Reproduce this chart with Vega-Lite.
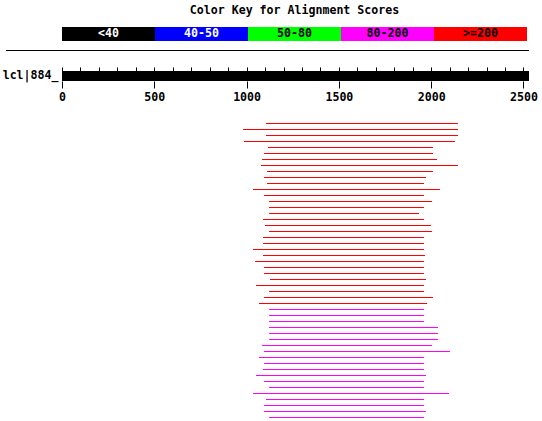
{
  "$schema": "https://vega.github.io/schema/vega-lite/v6.json",
  "autosize": {"type": "pad"},
  "padding": {"left": 2, "top": 5, "right": 0, "bottom": 0},
  "background": "white",
  "bounds": "flush",
  "spacing": 30,
  "resolve": {"scale": {"x": "independent", "y": "independent"}},
  "config": {"view": {"stroke": null}},
  "vconcat": [
    {
      "width": 465,
      "height": 14,
      "title": {"text": "Color Key for Alignment Scores", "font": "DejaVu Sans Mono", "fontSize": 11.6, "fontWeight": "bold", "color": "black", "anchor": "middle", "baseline": "alphabetic", "offset": 1},
      "data": {"values": [{"label": "<40"}, {"label": "40-50"}, {"label": "50-80"}, {"label": "80-200"}, {"label": ">=200"}]},
      "encoding": {"x": {"field": "label", "type": "nominal", "sort": null, "scale": {"paddingInner": 0, "paddingOuter": 0}, "axis": null}},
      "layer": [
        {"mark": {"type": "rect"}, "encoding": {"color": {"field": "label", "type": "nominal", "scale": {"domain": ["<40", "40-50", "50-80", "80-200", ">=200"], "range": ["#000000", "#0000ff", "#00ff00", "#ff00ff", "#ff0000"]}, "legend": null}}},
        {"mark": {"type": "text", "font": "DejaVu Sans Mono", "fontSize": 11.6, "fontWeight": "bold", "baseline": "middle"}, "encoding": {"text": {"field": "label"}, "color": {"condition": {"test": "datum.label === '<40' || datum.label === '40-50'", "value": "white"}, "value": "black"}}}
      ]
    },
    {
      "width": 467,
      "height": 10,
      "data": {"values": [{"query": "lcl|884_", "start": 0, "end": 2530}]},
      "layer": [
        {
          "mark": {"type": "rect", "color": "black"},
          "encoding": {
            "x": {"field": "start", "type": "quantitative", "scale": {"domain": [0, 2530], "nice": false, "zero": false}, "axis": {"values": [0, 500, 1000, 1500, 2000, 2500], "format": "d", "tickSize": 7, "tickColor": "black", "domain": false, "grid": false, "title": null, "labelFont": "DejaVu Sans Mono", "labelFontSize": 11.6, "labelFontWeight": "bold", "labelColor": "black", "labelPadding": 3, "labelFlush": false, "labelOverlap": false}},
            "x2": {"field": "end"},
            "y": {"field": "query", "type": "nominal", "scale": {"paddingInner": 0, "paddingOuter": 0}, "axis": {"ticks": false, "domain": false, "title": null, "labelFont": "DejaVu Sans Mono", "labelFontSize": 11.6, "labelFontWeight": "bold", "labelColor": "black", "labelPadding": 4}}
          }
        },
        {
          "mark": {"type": "rule", "color": "black", "strokeWidth": 1},
          "encoding": {
            "x": {"datum": -303.4, "type": "quantitative", "scale": {"domain": [0, 2530], "nice": false, "zero": false}, "axis": {"values": [0, 100, 200, 300, 400, 500, 600, 700, 800, 900, 1000, 1100, 1200, 1300, 1400, 1500, 1600, 1700, 1800, 1900, 2000, 2100, 2200, 2300, 2400, 2500], "tickSize": 4, "tickColor": "black", "labels": false, "domain": false, "grid": false, "title": null}},
            "x2": {"datum": 2530},
            "y": {"datum": 3.05, "type": "quantitative", "scale": {"domain": [0, 1], "nice": false, "zero": false}, "axis": null}
          }
        }
      ],
      "resolve": {"scale": {"y": "independent"}, "axis": {"x": "independent"}}
    },
    {
      "width": 467,
      "height": 306,
      "data": {"values": [
        {"rank": 1, "start": 1105, "end": 2145, "score": ">=200"},
        {"rank": 2, "start": 981, "end": 2145, "score": ">=200"},
        {"rank": 3, "start": 1105, "end": 2145, "score": ">=200"},
        {"rank": 4, "start": 986, "end": 2129, "score": ">=200"},
        {"rank": 5, "start": 1116, "end": 2010, "score": ">=200"},
        {"rank": 6, "start": 1094, "end": 2010, "score": ">=200"},
        {"rank": 7, "start": 1084, "end": 2032, "score": ">=200"},
        {"rank": 8, "start": 1078, "end": 2145, "score": ">=200"},
        {"rank": 9, "start": 1111, "end": 2010, "score": ">=200"},
        {"rank": 10, "start": 1094, "end": 1972, "score": ">=200"},
        {"rank": 11, "start": 1111, "end": 1961, "score": ">=200"},
        {"rank": 12, "start": 1035, "end": 2048, "score": ">=200"},
        {"rank": 13, "start": 1094, "end": 1961, "score": ">=200"},
        {"rank": 14, "start": 1122, "end": 2005, "score": ">=200"},
        {"rank": 15, "start": 1122, "end": 1961, "score": ">=200"},
        {"rank": 16, "start": 1122, "end": 1934, "score": ">=200"},
        {"rank": 17, "start": 1089, "end": 1961, "score": ">=200"},
        {"rank": 18, "start": 1100, "end": 1999, "score": ">=200"},
        {"rank": 19, "start": 1122, "end": 2005, "score": ">=200"},
        {"rank": 20, "start": 1089, "end": 1961, "score": ">=200"},
        {"rank": 21, "start": 1089, "end": 1961, "score": ">=200"},
        {"rank": 22, "start": 1035, "end": 1961, "score": ">=200"},
        {"rank": 23, "start": 1089, "end": 1967, "score": ">=200"},
        {"rank": 24, "start": 1046, "end": 1961, "score": ">=200"},
        {"rank": 25, "start": 1094, "end": 1961, "score": ">=200"},
        {"rank": 26, "start": 1094, "end": 1961, "score": ">=200"},
        {"rank": 27, "start": 1127, "end": 1972, "score": ">=200"},
        {"rank": 28, "start": 1051, "end": 1961, "score": ">=200"},
        {"rank": 29, "start": 1122, "end": 1961, "score": ">=200"},
        {"rank": 30, "start": 1094, "end": 2010, "score": ">=200"},
        {"rank": 31, "start": 1067, "end": 1978, "score": ">=200"},
        {"rank": 32, "start": 1122, "end": 1961, "score": "80-200"},
        {"rank": 33, "start": 1122, "end": 1961, "score": "80-200"},
        {"rank": 34, "start": 1122, "end": 1961, "score": "80-200"},
        {"rank": 35, "start": 1122, "end": 2037, "score": "80-200"},
        {"rank": 36, "start": 1122, "end": 2037, "score": "80-200"},
        {"rank": 37, "start": 1122, "end": 2037, "score": "80-200"},
        {"rank": 38, "start": 1084, "end": 2005, "score": "80-200"},
        {"rank": 39, "start": 1094, "end": 2102, "score": "80-200"},
        {"rank": 40, "start": 1067, "end": 1961, "score": "80-200"},
        {"rank": 41, "start": 1094, "end": 1961, "score": "80-200"},
        {"rank": 42, "start": 1089, "end": 1961, "score": "80-200"},
        {"rank": 43, "start": 1051, "end": 1972, "score": "80-200"},
        {"rank": 44, "start": 1094, "end": 1961, "score": "80-200"},
        {"rank": 45, "start": 1122, "end": 1961, "score": "80-200"},
        {"rank": 46, "start": 1035, "end": 2097, "score": "80-200"},
        {"rank": 47, "start": 1105, "end": 1961, "score": "80-200"},
        {"rank": 48, "start": 1094, "end": 1961, "score": "80-200"},
        {"rank": 49, "start": 1094, "end": 1972, "score": "80-200"},
        {"rank": 50, "start": 1122, "end": 1961, "score": "80-200"}
      ]},
      "mark": {"type": "rule", "strokeWidth": 1, "yOffset": 0.5},
      "encoding": {
        "x": {"field": "start", "type": "quantitative", "scale": {"domain": [0, 2530], "nice": false, "zero": false}, "axis": null},
        "x2": {"field": "end"},
        "y": {"field": "rank", "type": "quantitative", "scale": {"domain": [-1, 50], "reverse": true, "nice": false, "zero": false}, "axis": null},
        "color": {"field": "score", "type": "nominal", "scale": {"domain": ["<40", "40-50", "50-80", "80-200", ">=200"], "range": ["#000000", "#0000ff", "#00ff00", "#ff00ff", "#ff0000"]}, "legend": null}
      }
    }
  ]
}
